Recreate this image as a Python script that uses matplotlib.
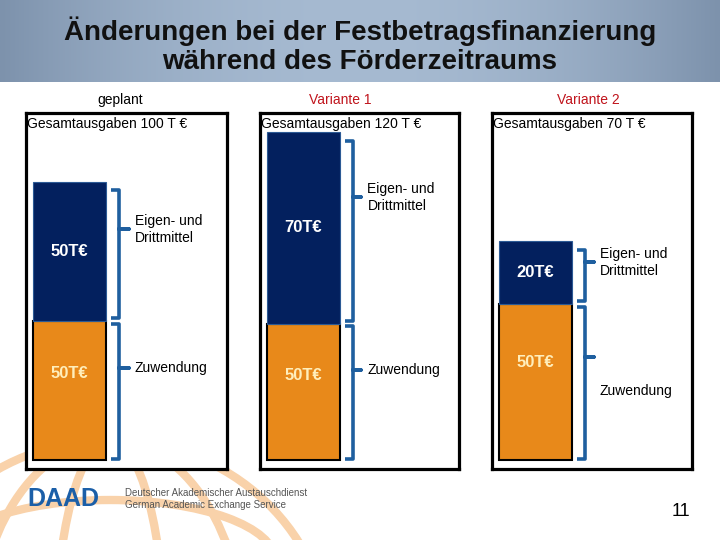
import numpy as np
import matplotlib
matplotlib.use("Agg")
import matplotlib.pyplot as plt
from matplotlib.patches import Ellipse

plt.rcParams['font.family'] = ['Liberation Sans', 'DejaVu Sans']

# data
titles = ["geplant", "Variante 1", "Variante 2"]
title_colors = ["black", "#c0141c", "#c0141c"]
totals = [100, 120, 70]
zuwendung = [50, 50, 50]
eigen = [50, 70, 20]

NAVY = "#03205e"
ORANGE = "#e8891a"
BRACE = "#1f5f9f"

W, H = 720, 540
fig = plt.figure(figsize=(7.2, 5.4), dpi=100)

# background axes in pixel coordinates
bg = fig.add_axes([0, 0, 1, 1])
bg.set_xlim(0, W)
bg.set_ylim(H, 0)
bg.axis("off")

# title banner with gradient
xs = np.linspace(-1, 1, 300)
grad = 1 - xs ** 2
edge = np.array(matplotlib.colors.to_rgb("#7d92ac"))
mid = np.array(matplotlib.colors.to_rgb("#a6bad1"))
img = edge[None, :] + grad[:, None] * (mid - edge)[None, :]
img = np.repeat(img[None, :, :], 2, axis=0)
bg.imshow(img, extent=[0, W, 82, 0], aspect="auto", zorder=0)
bg.set_xlim(0, W)
bg.set_ylim(H, 0)
bg.text(W / 2, 31, "Änderungen bei der Festbetragsfinanzierung", ha="center", va="center",
        fontsize=20, fontweight="bold", color="#111111")
bg.text(W / 2, 62, "während des Förderzeitraums", ha="center", va="center",
        fontsize=20, fontweight="bold", color="#111111")

# globe watermark bottom-left
globe_col = "#f9d2aa"
cx, cy = 110, 650
for w_ in [440, 270, 110]:
    bg.add_patch(Ellipse((cx, cy), w_, 420, fill=False, ec=globe_col, lw=6, zorder=0.5))
for dy, w_ in [(-90, 330), (-35, 410)]:
    bg.add_patch(Ellipse((cx, cy + dy), w_, 120, fill=False, ec=globe_col, lw=6, zorder=0.5))

# footer
bg.text(27, 499, "DAAD", ha="left", va="center", fontsize=18, fontweight="bold", color="#1b5fa8", zorder=3)
bg.text(125, 493, "Deutscher Akademischer Austauschdienst", ha="left", va="center",
        fontsize=7, color="#555555", zorder=3)
bg.text(125, 505, "German Academic Exchange Service", ha="left", va="center",
        fontsize=7, color="#555555", zorder=3)
bg.text(690, 512, "11", ha="right", va="center", fontsize=13, color="black")

# panel layout (pixels)
box_left = [26, 260, 492]
box_right = [227, 459, 692]
head_x = [120, 340, 588]
box_top, box_bottom, base_px = 113, 469, 460
scales = [2.78, 2.73, 3.13]   # px per T€ in each panel
zuw_text_dy = [0, 0, -34]     # Variante 2 label sits lower

for i in range(3):
    bg.text(head_x[i], 100, titles[i], ha="center", va="center", fontsize=10,
            color=title_colors[i])

    L, R = box_left[i], box_right[i]
    ax = fig.add_axes([L / W, 1 - box_bottom / H, (R - L) / W, (box_bottom - box_top) / H])
    s = scales[i]
    ax.set_xlim(0, 1)
    ax.set_ylim(-(box_bottom - base_px) / s, (base_px - box_top) / s)
    ax.set_xticks([])
    ax.set_yticks([])
    for sp in ax.spines.values():
        sp.set_linewidth(2.3)
        sp.set_color("black")

    bx, bw = 0.035, 0.365
    ax.bar(bx, zuwendung[i], width=bw, align="edge", color=ORANGE, edgecolor="black", linewidth=1.5)
    ax.bar(bx, eigen[i], bottom=zuwendung[i], width=bw, align="edge", color=NAVY,
           edgecolor="#2c5a95", linewidth=0.8)

    xc = bx + bw / 2
    ax.text(xc, zuwendung[i] * 0.62, f"{zuwendung[i]}T€", ha="center", va="center",
            fontsize=12, fontweight="bold", color="#ffeebb")
    ax.text(xc, zuwendung[i] + eigen[i] * 0.5, f"{eigen[i]}T€", ha="center", va="center",
            fontsize=12, fontweight="bold", color="white")

    ax.text(0.005, 0.97, f"Gesamtausgaben {totals[i]} T €", transform=ax.transAxes,
            ha="left", va="center", fontsize=10, color="black")

    # braces
    x0, hook, nub = 0.465, 0.04, 0.045
    segs = [(0, zuwendung[i]), (zuwendung[i], zuwendung[i] + eigen[i])]
    labels = ["Zuwendung", "Eigen- und\nDrittmittel"]
    for j, (b, t) in enumerate(segs):
        gap = 1.0 if j == 0 else 3.0
        bb, tt = b + gap * 0.3, t - gap
        n = b + 0.66 * (t - b)
        ax.plot([x0 - hook, x0, x0, x0 + nub, x0, x0, x0 - hook],
                [tt, tt, n, n, n, bb, bb], color=BRACE, lw=2.6,
                solid_joinstyle="round", solid_capstyle="butt", clip_on=False)
        ty = n + (zuw_text_dy[i] / s if j == 0 else 0)
        ax.text(0.54, ty, labels[j], ha="left", va="center", fontsize=10,
                color="black", linespacing=1.25)

fig.savefig("out.png", dpi=100)
